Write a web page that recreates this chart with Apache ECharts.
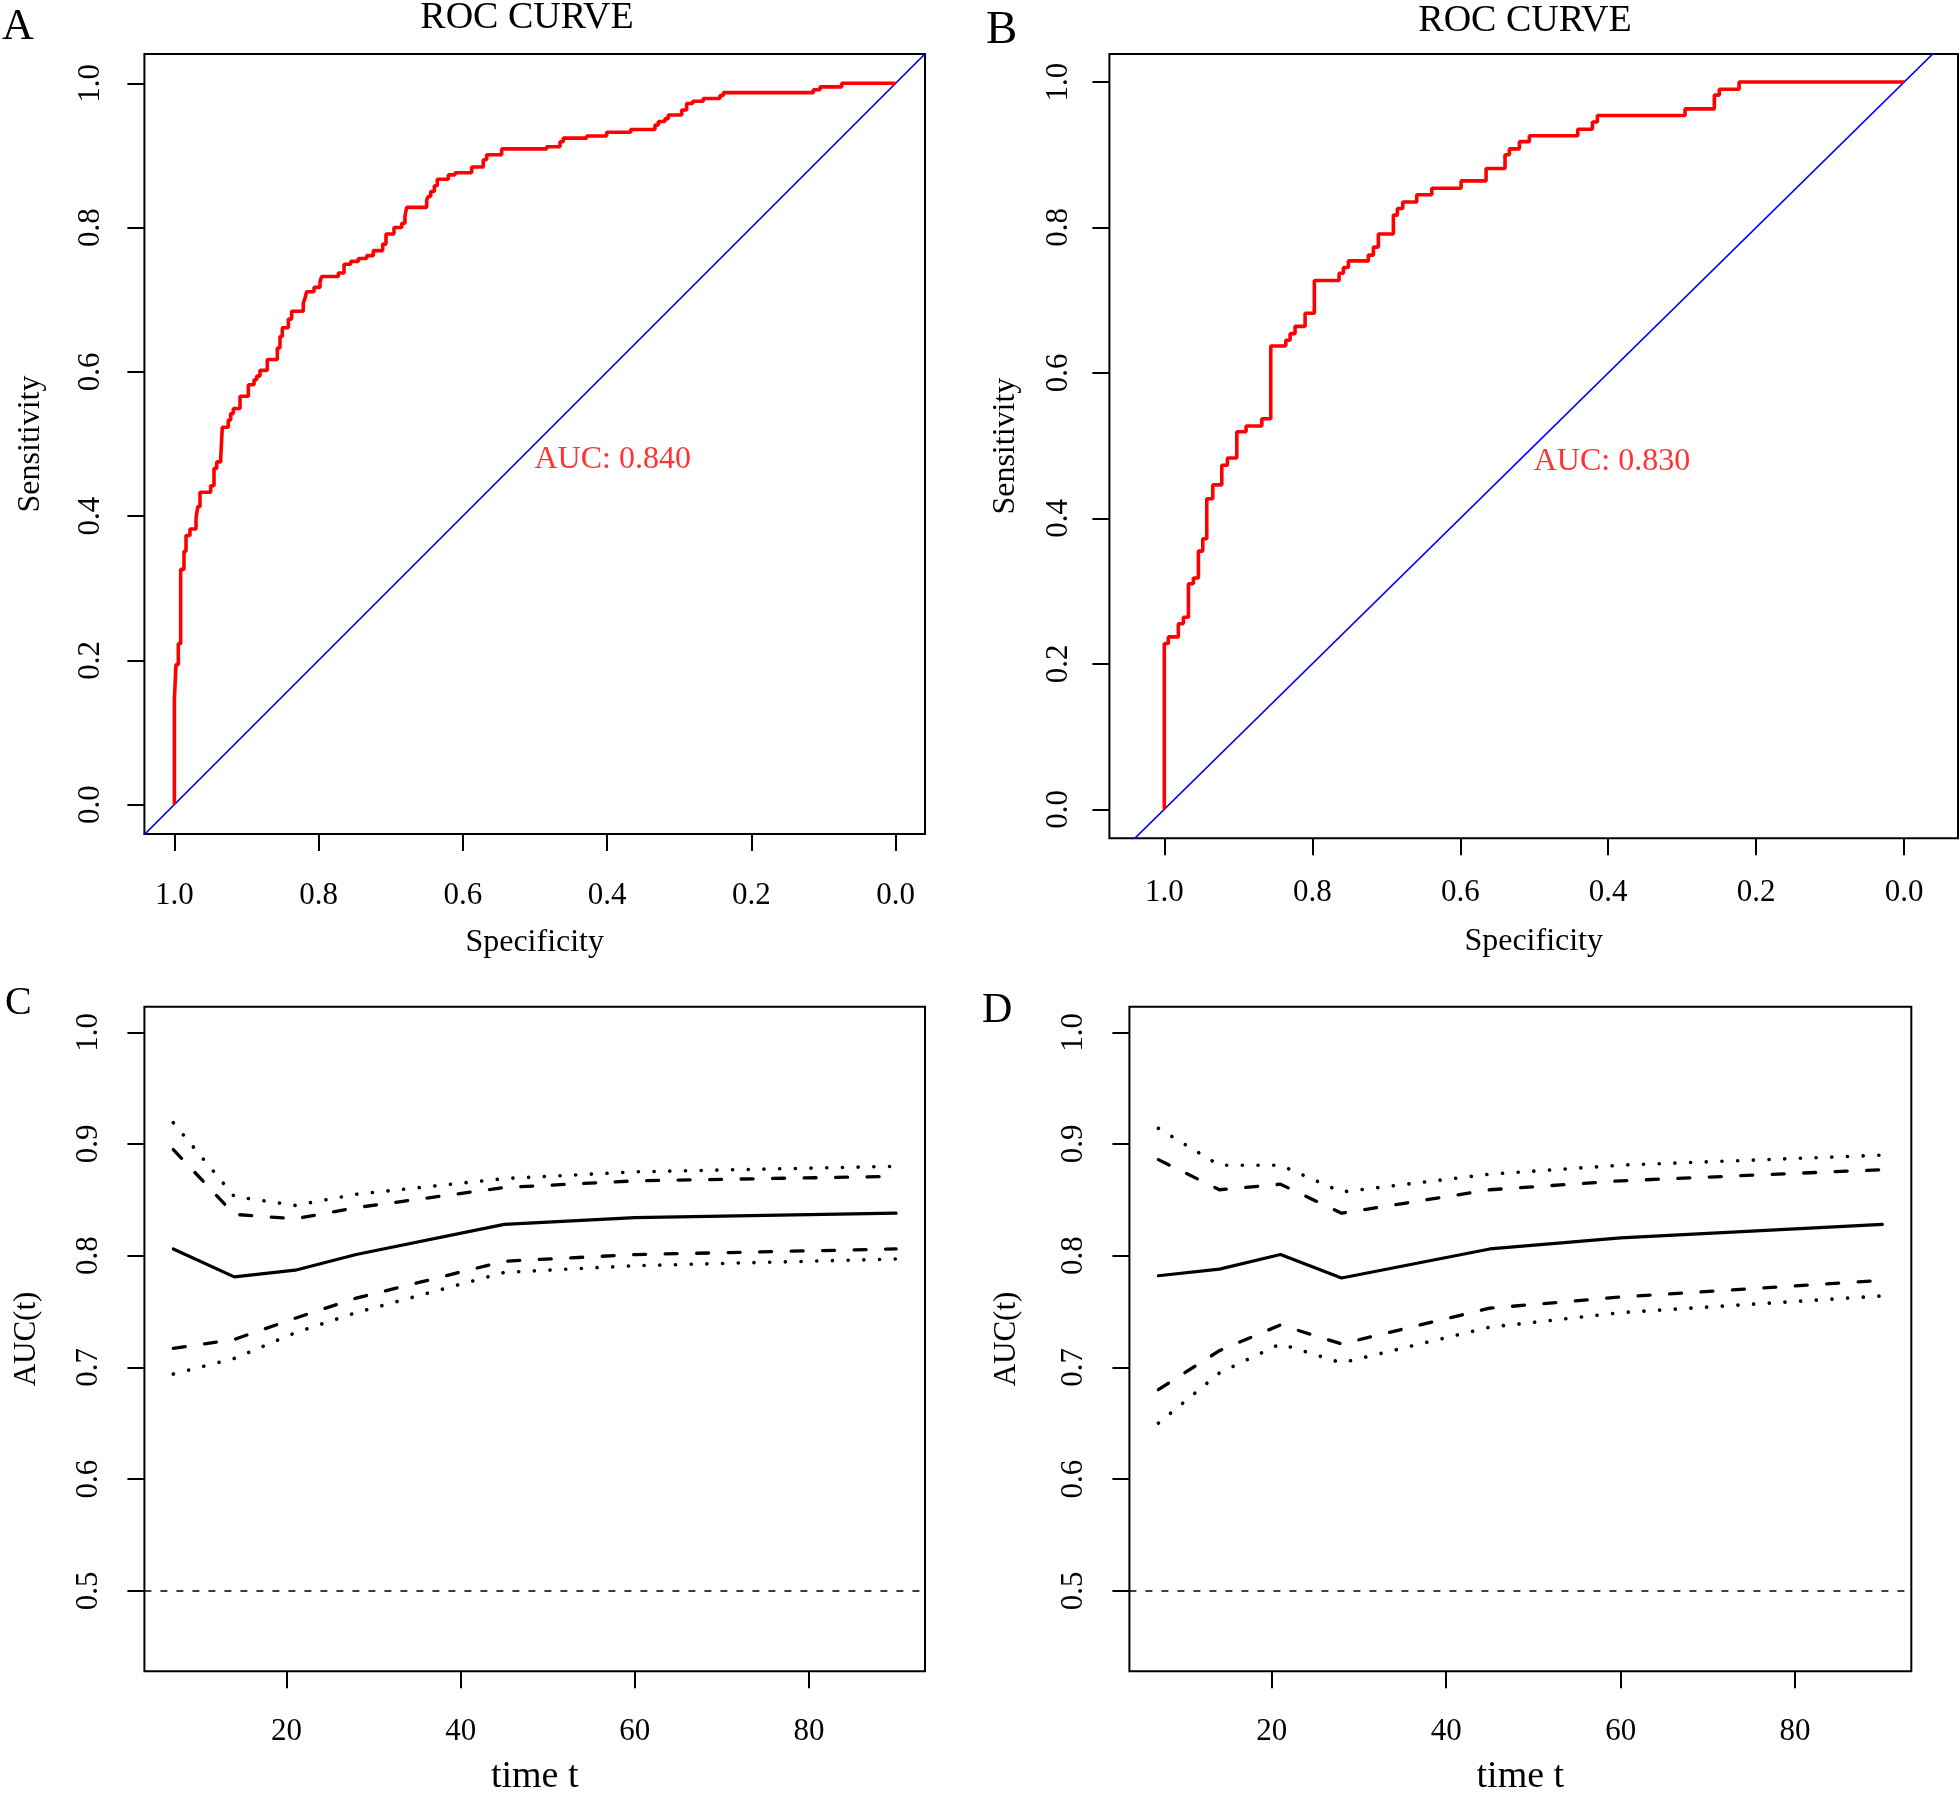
<!DOCTYPE html>
<html>
<head>
<meta charset="utf-8">
<script src="https://cdn.jsdelivr.net/npm/echarts@6/dist/echarts.min.js"></script>
<style>
  html, body { margin: 0; padding: 0; background: #fff; }
  #chart { width: 1960px; height: 1794px; }
</style>
</head>
<body>
<div id="chart"></div>
<script>
// ROC step points: [specificity, sensitivity after the step]
var rocA = [
  [1.0, 0], [1.0, 0.146], [0.9978, 0.194], [0.9946, 0.223], [0.9913, 0.326], [0.9867, 0.351],
  [0.9839, 0.373], [0.9784, 0.382], [0.970, 0.397], [0.9677, 0.413], [0.9645, 0.433], [0.9497, 0.442],
  [0.9451, 0.466], [0.9413, 0.475], [0.9358, 0.480], [0.9336, 0.523], [0.9253, 0.533], [0.922, 0.542],
  [0.9183, 0.549], [0.909, 0.566], [0.8975, 0.582], [0.8896, 0.589], [0.8859, 0.594], [0.8813, 0.602],
  [0.8712, 0.617], [0.8573, 0.633], [0.8536, 0.649], [0.8504, 0.661], [0.842, 0.673], [0.8374, 0.684],
  [0.8213, 0.695], [0.8189, 0.702], [0.8166, 0.711], [0.8064, 0.717], [0.7981, 0.725], [0.7958, 0.732],
  [0.7727, 0.737], [0.7648, 0.749], [0.7555, 0.753], [0.745, 0.757], [0.7334, 0.761], [0.7242, 0.768],
  [0.7112, 0.777], [0.7066, 0.791], [0.6955, 0.800], [0.6848, 0.806], [0.6803, 0.816], [0.6779, 0.828],
  [0.6502, 0.838], [0.648, 0.843], [0.6446, 0.850], [0.6396, 0.858], [0.6355, 0.867], [0.6202, 0.873],
  [0.6109, 0.876], [0.5878, 0.884], [0.5717, 0.894], [0.567, 0.901], [0.5462, 0.909], [0.4838, 0.912],
  [0.4653, 0.919], [0.4608, 0.924], [0.4283, 0.927], [0.4006, 0.932], [0.3673, 0.936], [0.3336, 0.942],
  [0.329, 0.947], [0.3197, 0.951], [0.3151, 0.956], [0.2966, 0.963], [0.2897, 0.972], [0.2813, 0.975],
  [0.2667, 0.979], [0.2435, 0.983], [0.2389, 0.987], [0.1141, 0.991], [0.1048, 0.995], [0.0747, 1.0],
  [0, 1.0]
];
var rocB = [
  [1.0, 0], [1.0, 0.228], [0.9945, 0.237], [0.981, 0.255], [0.9742, 0.264], [0.9674, 0.310],
  [0.9607, 0.318], [0.9539, 0.355], [0.948, 0.372], [0.9426, 0.427], [0.9345, 0.446], [0.9223, 0.473],
  [0.9147, 0.483], [0.902, 0.519], [0.8895, 0.527], [0.8682, 0.537], [0.8561, 0.637], [0.8358, 0.645],
  [0.83, 0.654], [0.8233, 0.664], [0.8097, 0.682], [0.7972, 0.727], [0.7638, 0.737], [0.7579, 0.745],
  [0.7512, 0.754], [0.7242, 0.762], [0.7174, 0.773], [0.7107, 0.791], [0.6904, 0.817], [0.685, 0.826],
  [0.6777, 0.835], [0.6588, 0.845], [0.6385, 0.854], [0.5989, 0.864], [0.5651, 0.881], [0.5395, 0.900],
  [0.5336, 0.908], [0.5201, 0.918], [0.5066, 0.926], [0.4412, 0.935], [0.4214, 0.945], [0.4147, 0.954],
  [0.2962, 0.963], [0.2566, 0.982], [0.2499, 0.990], [0.2232, 1.0], [0, 1.0]
];
var aucA = 0.840;
var aucB = 0.830;
var chanceLine = [[1.2, -0.2], [-0.2, 1.2]];
var rocTicks = [0, 0.2, 0.4, 0.6, 0.8, 1.0];

// time-dependent AUC
var times = [7, 14, 21, 28, 45, 60, 90];
var cAuc    = [0.806, 0.781, 0.787, 0.801, 0.828, 0.834, 0.838];
var cDashUp = [0.895, 0.837, 0.833, 0.843, 0.861, 0.867, 0.871];
var cDotUp  = [0.919, 0.853, 0.845, 0.855, 0.869, 0.875, 0.880];
var cDashLo = [0.717, 0.725, 0.744, 0.762, 0.795, 0.801, 0.806];
var cDotLo  = [0.694, 0.708, 0.731, 0.749, 0.785, 0.791, 0.797];
var dAuc    = [0.782, 0.788, 0.801, 0.780, 0.806, 0.816, 0.828];
var dDashUp = [0.886, 0.859, 0.864, 0.838, 0.859, 0.867, 0.877];
var dDotUp  = [0.914, 0.881, 0.881, 0.857, 0.873, 0.881, 0.890];
var dDashLo = [0.680, 0.715, 0.738, 0.721, 0.753, 0.763, 0.778];
var dDotLo  = [0.650, 0.695, 0.721, 0.704, 0.736, 0.749, 0.764];
var timeTicks = [20, 40, 60, 80];
var aucTicks = [0.5, 0.6, 0.7, 0.8, 0.9, 1.0];
var refLevel = 0.5;

var FONT = "Liberation Serif";

function xAxisOf(grid, min, max, ticks, name, opt) {
  return {
    type: "value", gridIndex: grid, min: min, max: max, inverse: !!opt.inverse,
    axisLine: { show: false, onZero: false },
    splitLine: { show: false },
    axisTick: { customValues: ticks, length: 17, lineStyle: { color: "#000", width: 2 } },
    axisLabel: {
      customValues: ticks, margin: opt.margin, color: "#000",
      fontFamily: FONT, fontSize: 31,
      formatter: opt.fmt
    },
    name: name, nameLocation: "middle", nameGap: opt.nameGap,
    nameTextStyle: { fontFamily: FONT, fontSize: opt.nameSize, color: "#000" }
  };
}
function yAxisOf(grid, min, max, ticks, name, opt) {
  return {
    type: "value", gridIndex: grid, min: min, max: max,
    axisLine: { show: false, onZero: false },
    splitLine: { show: false },
    axisTick: { customValues: ticks, length: 17, lineStyle: { color: "#000", width: 2 } },
    axisLabel: {
      customValues: ticks, margin: opt.margin, rotate: 90, color: "#000",
      fontFamily: FONT, fontSize: 31,
      formatter: function(v) { return v.toFixed(1); }
    },
    name: name, nameLocation: "middle", nameRotate: 90, nameGap: opt.nameGap,
    nameTextStyle: { fontFamily: FONT, fontSize: opt.nameSize, color: "#000" }
  };
}
function oneDec(v) { return v.toFixed(1); }
function intFmt(v) { return String(v); }

function pairs(vals) {
  return times.map(function(t, i) { return [t, vals[i]]; });
}
var solid = { color: "#000", width: 3.2, type: "solid", cap: "round", join: "round" };
var dashed = { color: "#000", width: 3.3, type: [12, 19.5], cap: "round", join: "round" };
var dotted = { color: "#000", width: 3.6, type: [0.1, 15.6], cap: "round", join: "round" };

function tline(idx, vals, style, withRef) {
  var s = {
    type: "line", xAxisIndex: idx, yAxisIndex: idx, data: pairs(vals),
    symbol: "none", lineStyle: style, silent: true
  };
  if (withRef) {
    s.markLine = {
      silent: true, symbol: "none", label: { show: false },
      lineStyle: { color: "#000", width: 1.6, type: [7, 9] },
      data: [{ yAxis: refLevel }]
    };
  }
  return s;
}
function rocSeries(idx, data, auc) {
  return [
    {
      type: "line", xAxisIndex: idx, yAxisIndex: idx, data: chanceLine,
      symbol: "none", silent: true, clip: true,
      lineStyle: { color: "#0000ff", width: 1.6 }
    },
    {
      type: "line", xAxisIndex: idx, yAxisIndex: idx, data: data, step: "end",
      symbol: "none", silent: true,
      lineStyle: { color: "#ff0000", width: 3.6 }
    },
    {
      type: "scatter", xAxisIndex: idx, yAxisIndex: idx, data: [[0.5, 0.5]],
      symbolSize: 1, silent: true, itemStyle: { color: "rgba(0,0,0,0)" },
      label: {
        show: true, position: [0, 0], align: "left", verticalAlign: "top",
        formatter: "AUC: " + auc.toFixed(3),
        color: "#ff0000", fontFamily: FONT, fontSize: 32
      }
    }
  ];
}

function txt(s, x, y, size, align) {
  return {
    type: "text", x: x, y: y, silent: true,
    style: {
      text: s, fill: "#000", font: size + "px \"" + FONT + "\"",
      align: align, textAlign: align, verticalAlign: "middle", textVerticalAlign: "middle"
    }
  };
}

var gridStyle = {
  show: true, borderColor: "#000", borderWidth: 2, backgroundColor: "transparent",
  containLabel: false, outerBoundsMode: "none"
};

var option = {
  backgroundColor: "#fff",
  animation: false,
  graphic: [
    txt("A", 2, 27, 44, "left"),
    txt("B", 986, 31, 47, "left"),
    txt("C", 5, 1003, 40, "left"),
    txt("D", 982, 1011, 42, "left"),
    txt("ROC CURVE", 527, 18, 38, "center"),
    txt("ROC CURVE", 1525, 21, 38, "center")
  ],
  grid: [
    Object.assign({ left: 144.4, top: 54, width: 780.6, height: 780 }, gridStyle),
    Object.assign({ left: 1109.4, top: 54, width: 848.6, height: 784.3 }, gridStyle),
    Object.assign({ left: 144.4, top: 1006.8, width: 780.6, height: 664.4 }, gridStyle),
    Object.assign({ left: 1129.4, top: 1006.8, width: 781.9, height: 664.4 }, gridStyle)
  ],
  xAxis: [
    xAxisOf(0, -0.0408, 1.0416, rocTicks, "Specificity", { inverse: true, margin: 46.5, nameGap: 93, nameSize: 32, fmt: oneDec }),
    xAxisOf(1, -0.0727, 1.0742, rocTicks, "Specificity", { inverse: true, margin: 39.5, nameGap: 87, nameSize: 32, fmt: oneDec }),
    xAxisOf(2, 3.68, 93.32, timeTicks, "time t", { margin: 45, nameGap: 87, nameSize: 38, fmt: intFmt }),
    xAxisOf(3, 3.68, 93.32, timeTicks, "time t", { margin: 45, nameGap: 87, nameSize: 38, fmt: intFmt })
  ],
  yAxis: [
    yAxisOf(0, -0.0409, 1.0406, rocTicks, "Sensitivity", { margin: 38.5, nameGap: 98, nameSize: 32 }),
    yAxisOf(1, -0.0399, 1.0385, rocTicks, "Sensitivity", { margin: 35, nameGap: 88, nameSize: 32 }),
    yAxisOf(2, 0.428, 1.0228, aucTicks, "AUC(t)", { margin: 40, nameGap: 102, nameSize: 31 }),
    yAxisOf(3, 0.428, 1.0228, aucTicks, "AUC(t)", { margin: 40, nameGap: 107, nameSize: 31 })
  ],
  series: [].concat(
    rocSeries(0, rocA, aucA),
    rocSeries(1, rocB, aucB),
    [
      tline(2, cAuc, solid, true),
      tline(2, cDashUp, dashed), tline(2, cDashLo, dashed),
      tline(2, cDotUp, dotted), tline(2, cDotLo, dotted),
      tline(3, dAuc, solid, true),
      tline(3, dDashUp, dashed), tline(3, dDashLo, dashed),
      tline(3, dDotUp, dotted), tline(3, dDotLo, dotted)
    ]
  )
};

var myChart = echarts.init(document.getElementById("chart"));
myChart.setOption(option);
</script>
</body>
</html>
